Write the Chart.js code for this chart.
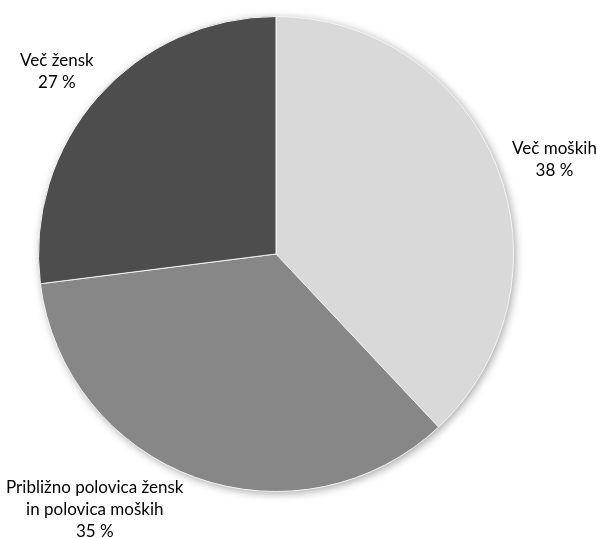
<!DOCTYPE html>
<html>
<head>
<meta charset="utf-8">
<script src="https://cdn.jsdelivr.net/npm/chart.js@4.4.0/dist/chart.umd.min.js"></script>
<style>
  html, body { margin: 0; padding: 0; background: #ffffff; }
  #wrap { width: 596px; height: 538px; }
</style>
</head>
<body>
<div id="wrap"><canvas id="chartCanvas" width="596" height="538"></canvas></div>
<script>
// Chart data
const categories = ['Več moških', 'Približno polovica žensk\nin polovica moških', 'Več žensk'];
const shares = [38, 35, 27];
const sliceColors = ['#d9d9d9', '#878787', '#4d4d4d'];

// Label placement relative to slice (angle shift in degrees, distance as radius factor, pixel nudge)
const labelPlacement = [
    { shift: 2, dist: 1.24, dx: 1, dy: 4 },
    { shift: 17, dist: 1.33, dx: 8, dy: 3 },
    { shift: 0, dist: 1.23, dx: 0, dy: 11 }
];

// Soft shadow behind the whole pie
const pieShadow = {
    id: 'pieShadow',
    beforeDatasetsDraw(chart) {
        const arc = chart.getDatasetMeta(0).data[0];
        if (!arc) return;
        const ctx = chart.ctx;
        ctx.save();
        ctx.shadowColor = 'rgba(0,0,0,0.35)';
        ctx.shadowBlur = 9;
        ctx.shadowOffsetX = 2;
        ctx.shadowOffsetY = 2;
        ctx.fillStyle = '#ffffff';
        ctx.beginPath();
        ctx.arc(arc.x, arc.y, arc.outerRadius, 0, Math.PI * 2);
        ctx.fill();
        ctx.restore();
    }
};

// Outside labels: category + percentage
const outsideLabels = {
    id: 'outsideLabels',
    afterDatasetsDraw(chart) {
        const ctx = chart.ctx;
        const meta = chart.getDatasetMeta(0);
        ctx.save();
        ctx.font = '17px Lato, "Open Sans", sans-serif';
        ctx.fillStyle = '#000000';
        ctx.textAlign = 'center';
        ctx.textBaseline = 'middle';
        meta.data.forEach((arc, i) => {
            const p = labelPlacement[i];
            const mid = (arc.startAngle + arc.endAngle) / 2 + p.shift * Math.PI / 180;
            const r = arc.outerRadius * p.dist;
            const x = arc.x + Math.cos(mid) * r + p.dx;
            const y = arc.y + Math.sin(mid) * r + p.dy;
            const lines = categories[i].split('\n').concat([shares[i] + ' %']);
            const lh = 22;
            const top = y - (lines.length - 1) * lh / 2;
            lines.forEach((line, j) => ctx.fillText(line, x, top + j * lh));
        });
        ctx.restore();
    }
};

const ctx = document.getElementById('chartCanvas').getContext('2d');
new Chart(ctx, {
    type: 'pie',
    data: {
        labels: categories,
        datasets: [{
            data: shares,
            backgroundColor: sliceColors,
            borderColor: '#f2f2f2',
            borderWidth: 1
        }]
    },
    options: {
        responsive: false,
        animation: false,
        layout: {
            padding: { top: 16, bottom: 46, left: 38, right: 82 }
        },
        plugins: {
            legend: { display: false },
            tooltip: { enabled: false }
        }
    },
    plugins: [pieShadow, outsideLabels]
});
</script>
</body>
</html>
